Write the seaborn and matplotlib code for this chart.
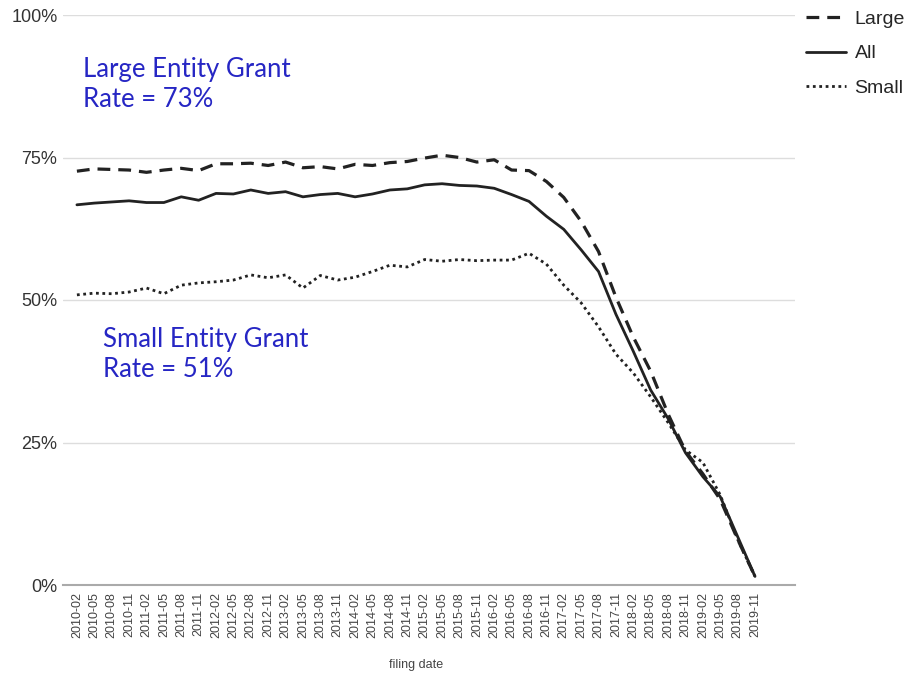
"""
Grant rate by filing date for large vs small entities
"""
import pandas as pd
import seaborn as sns
import matplotlib.pyplot as plt

dates = [f'{y}-{m}' for y in range(2010, 2020) for m in ['02', '05', '08', '11']]

large = [72.6, 73.0, 72.9, 72.8, 72.4, 72.8, 73.1, 72.7, 73.9, 73.9,
         74.0, 73.6, 74.2, 73.2, 73.4, 73.0, 73.8, 73.6, 74.1, 74.3,
         74.9, 75.4, 75.0, 74.2, 74.6, 72.8, 72.7, 70.8, 68.0, 63.8,
         58.5, 50.5, 43.5, 37.5, 30.0, 23.5, 19.5, 15.0, 8.0, 1.5]
all_ = [66.7, 67.0, 67.2, 67.4, 67.1, 67.1, 68.1, 67.5, 68.7, 68.6,
        69.3, 68.7, 69.0, 68.1, 68.5, 68.7, 68.1, 68.6, 69.3, 69.5,
        70.2, 70.4, 70.1, 70.0, 69.6, 68.5, 67.3, 64.7, 62.4, 58.8,
        55.0, 47.5, 41.0, 34.2, 29.2, 23.2, 19.0, 15.5, 8.5, 1.5]
small = [50.9, 51.2, 51.1, 51.4, 52.1, 51.1, 52.6, 53.0, 53.2, 53.5,
         54.4, 53.9, 54.4, 52.1, 54.3, 53.5, 54.0, 55.0, 56.1, 55.8,
         57.1, 56.8, 57.1, 56.9, 57.0, 57.0, 58.2, 56.3, 52.6, 49.5,
         45.3, 40.5, 37.2, 33.0, 28.5, 23.7, 21.5, 15.8, 8.0, 1.5]

sns.set_style('white')
plt.rcParams['font.family'] = ['Liberation Sans', 'DejaVu Sans']

df = pd.DataFrame({'pos': list(range(len(dates))) * 3,
                   'rate': large + all_ + small,
                   'series': ['Large'] * 40 + ['All'] * 40 + ['Small'] * 40})

fig = plt.figure(figsize=(9.09, 6.75), dpi=100)
ax = fig.add_axes([63 / 909, 90 / 675, 732 / 909, 570 / 675])

styles = {'Large': ((0, (4, 2.5)), 2.3), 'All': ('-', 2.0), 'Small': ((0, (1, 1.3)), 2.0)}
for name in ['Large', 'All', 'Small']:
    ls, lw = styles[name]
    sns.lineplot(data=df[df['series'] == name], x='pos', y='rate', ax=ax,
                 color='#222222', linestyle=ls, linewidth=lw, label=name)

ax.set_ylim(0, 100)
ax.set_xlim(-0.8, 41.3)
ax.set_yticks([0, 25, 50, 75, 100])
ax.set_yticklabels(['0%', '25%', '50%', '75%', '100%'], fontsize=13, color='#333333')
ax.set_xticks(range(len(dates)))
ax.set_xticklabels(dates, rotation=90, fontsize=9, color='#444444',
                   family=['Liberation Sans Narrow', 'Liberation Sans'])
ax.tick_params(axis='y', length=0, pad=4)
ax.tick_params(axis='x', length=0, pad=5)
ax.yaxis.grid(True, color='#dddddd', linewidth=1)
for s in ['top', 'right', 'left']:
    ax.spines[s].set_visible(False)
ax.spines['bottom'].set_color('#aaaaaa')
ax.spines['bottom'].set_linewidth(1.5)
ax.set_ylabel('')
ax.set_xlabel('filing date', fontsize=9, color='#444444')
ax.xaxis.set_label_coords(353 / 732, -74 / 570)

ann = dict(color='#2626c4', fontsize=18.5, va='top', linespacing=1.25,
           family=['Lato', 'DejaVu Sans'])
ax.text(0.35, 92.6, 'Large Entity Grant\nRate = 73%', **ann)
ax.text(1.5, 45.2, 'Small Entity Grant\nRate = 51%', **ann)

ax.legend(loc='upper left', bbox_to_anchor=(806 / 909, 1 - 10 / 675),
          bbox_transform=fig.transFigure, frameon=False, borderpad=0,
          borderaxespad=0, fontsize=14, handlelength=2.05, handletextpad=0.45,
          labelspacing=0.88)

plt.savefig('out.png', dpi=100)
